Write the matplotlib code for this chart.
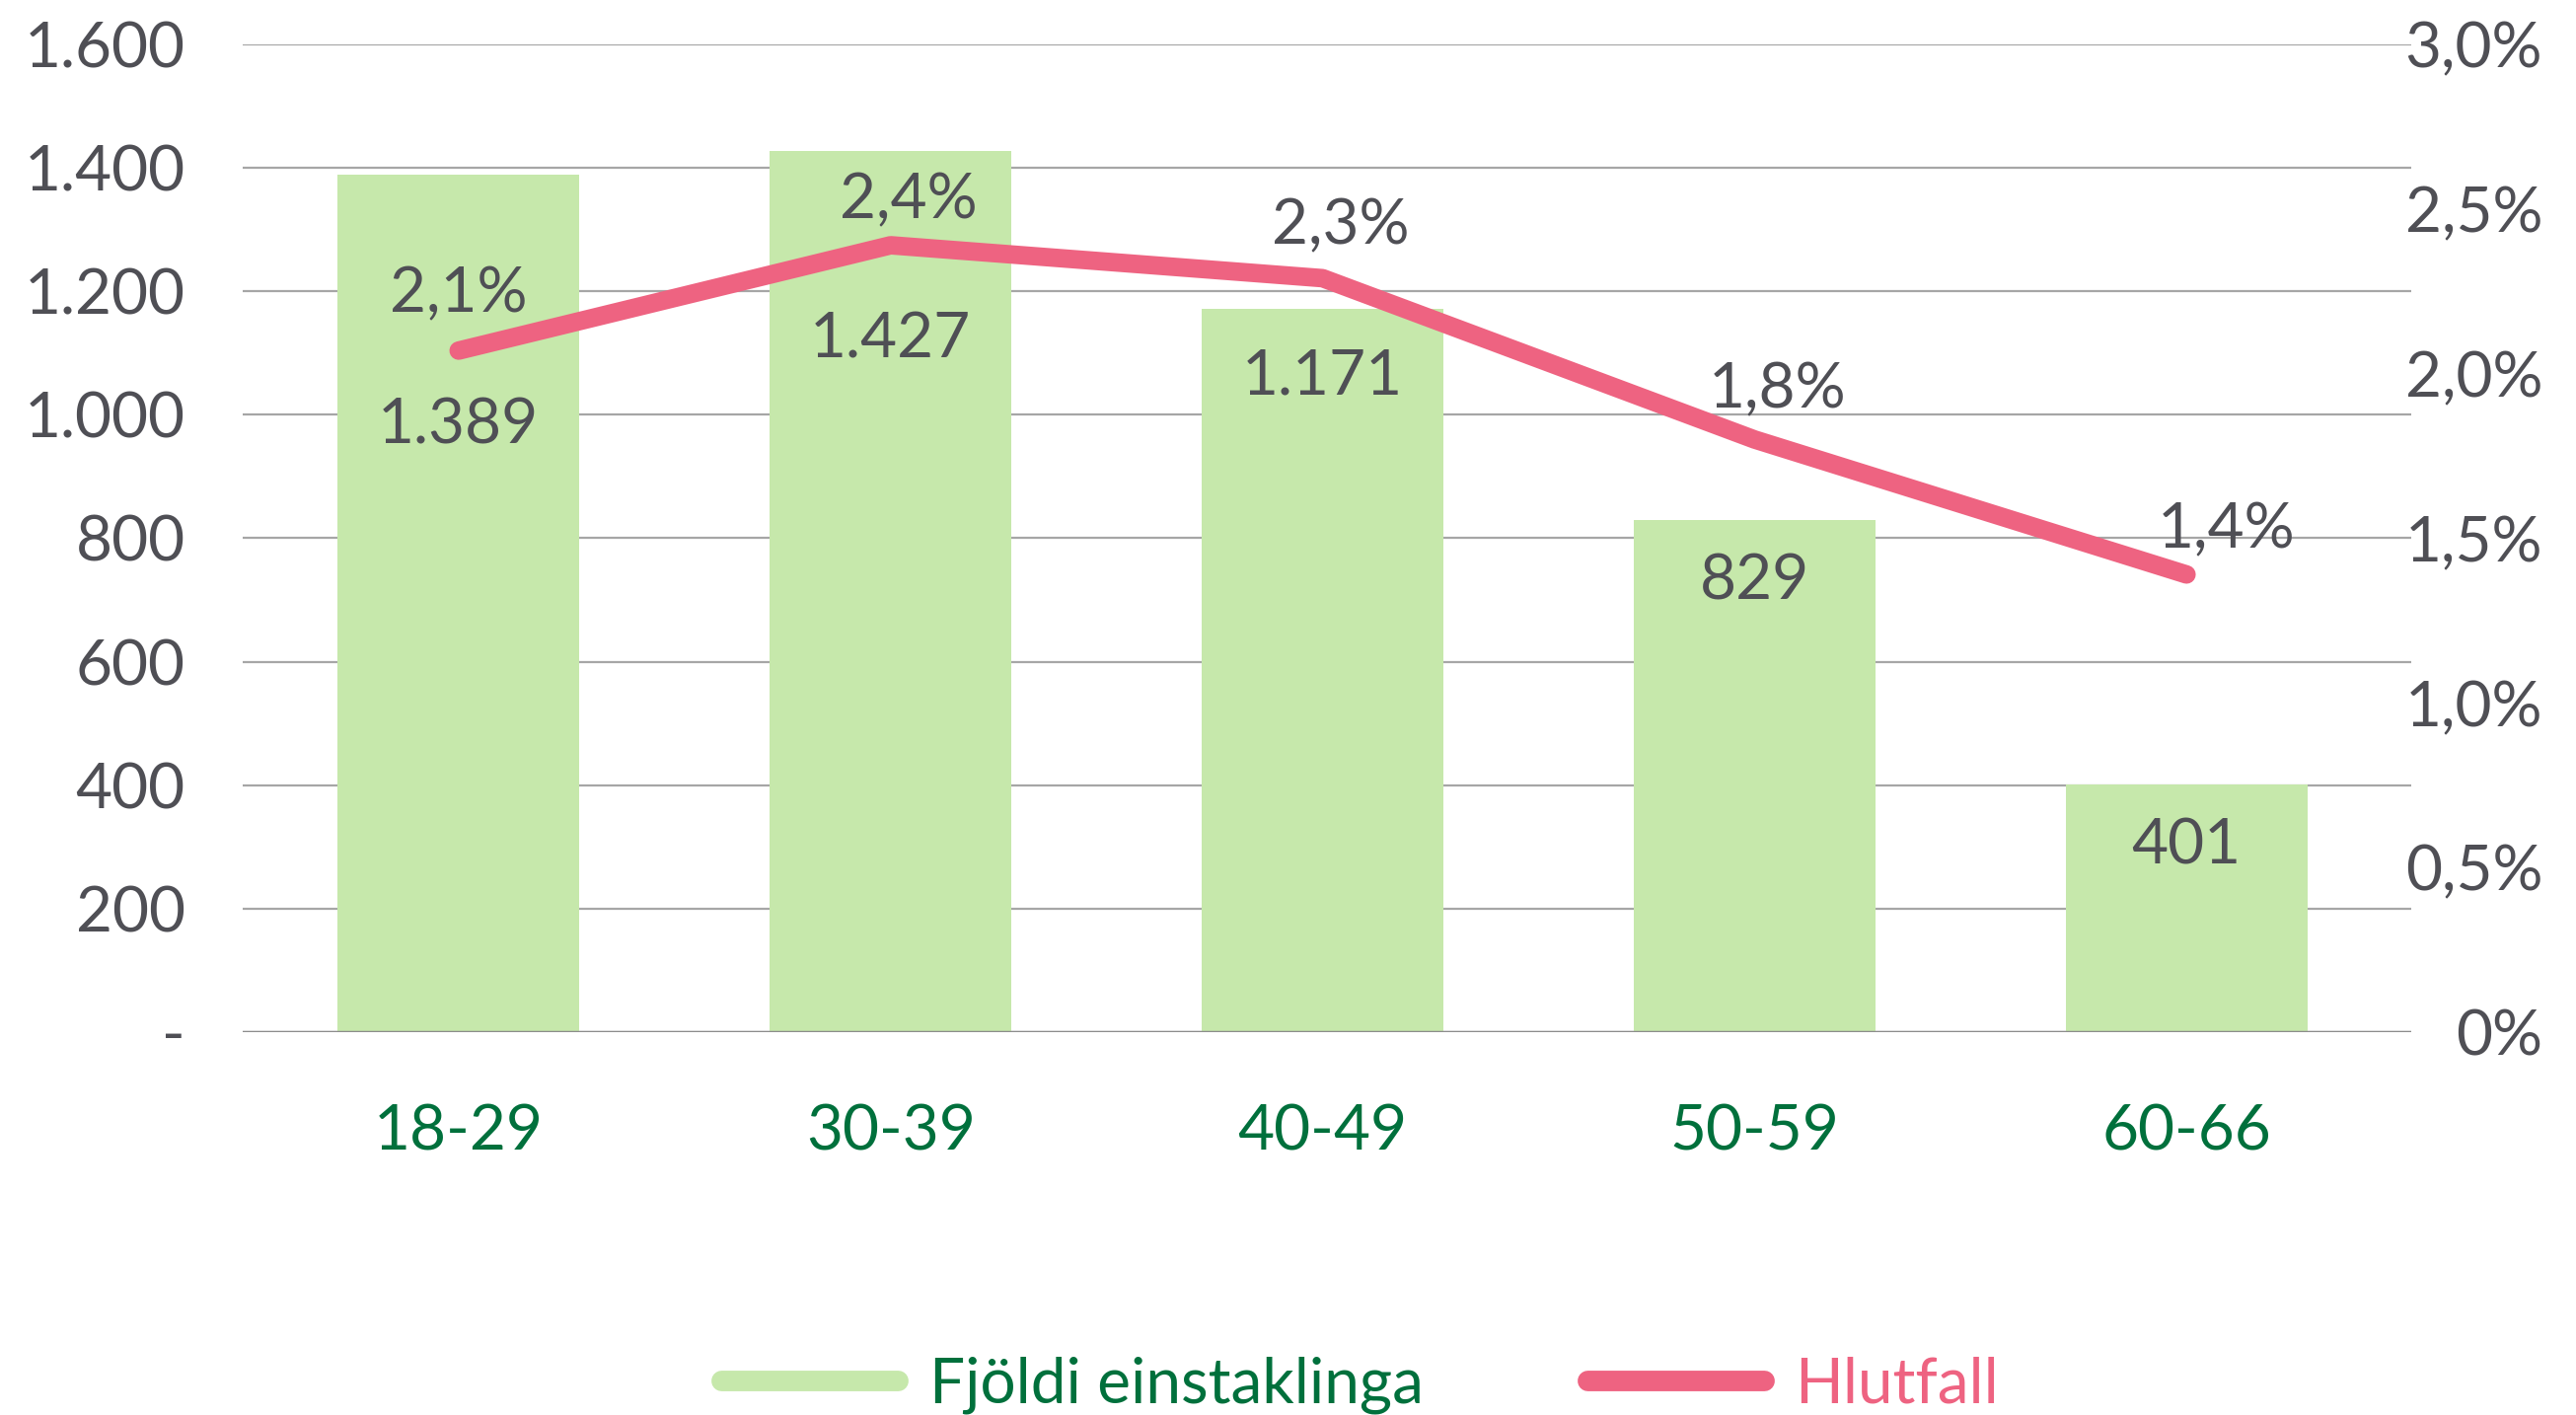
import numpy as np
import matplotlib.pyplot as plt
from matplotlib.lines import Line2D

# age groups and values
flokkar = ["18-29", "30-39", "40-49", "50-59", "60-66"]
fjoldi = [1389, 1427, 1171, 829, 401]
hlutfall = [2.07, 2.39, 2.29, 1.80, 1.39]
hlutfall_txt = ["2,1%", "2,4%", "2,3%", "1,8%", "1,4%"]
vinstri_ticks = [0, 200, 400, 600, 800, 1000, 1200, 1400, 1600]
vinstri_labels = ["-", "200", "400", "600", "800", "1.000", "1.200", "1.400", "1.600"]
haegri_ticks = [0, 0.5, 1.0, 1.5, 2.0, 2.5, 3.0]
haegri_labels = ["0%", "0,5%", "1,0%", "1,5%", "2,0%", "2,5%", "3,0%"]

graen = "#c6e8ab"
bleik = "#ee6381"
dokkgraen = "#00703c"
grar = "#4f4f55"
fs = 46

plt.rcParams['font.family'] = ['Lato', 'DejaVu Sans']

fig = plt.figure(figsize=(26.11, 14.34), dpi=100)
ax = fig.add_axes([0.0942, 0.2706, 0.8418, 0.698])
ax2 = ax.twinx()

x = np.arange(len(flokkar))
ax.bar(x, fjoldi, width=0.56, color=graen, zorder=2)
ax.set_xlim(-0.5, 4.52)
ax.set_ylim(0, 1600)
ax.set_yticks(vinstri_ticks)
ax.set_yticklabels(vinstri_labels)
ax.set_xticks(x)
ax.set_xticklabels(flokkar)
ax.grid(axis='y', color="#a6a6a6", lw=1.6, zorder=0)
ax.set_axisbelow(True)
for s in ax.spines.values():
    s.set_visible(False)
ax.axhline(0, color="#8c8c8c", lw=2.5, zorder=3)
ax.tick_params(axis='y', length=0, pad=42, labelsize=fs, labelcolor=grar)
ax.tick_params(axis='x', length=0, pad=52, labelsize=fs, labelcolor=dokkgraen)

# bar value labels (first two were nudged down in the original)
lab_y = [982, 1121, 1062, 729, 301]
for i in range(len(fjoldi)):
    txt = f"{fjoldi[i]:,}".replace(",", ".")
    ax.text(x[i], lab_y[i], txt, ha='center', va='center', fontsize=fs, color=grar, zorder=5)

ax2.plot(x, hlutfall, color=bleik, lw=13.5, solid_capstyle='round', solid_joinstyle='round', zorder=4)
ax2.set_ylim(0, 3.0)
ax2.set_yticks(haegri_ticks)
ax2.set_yticklabels(haegri_labels)
for lbl in ax2.get_yticklabels():
    lbl.set_horizontalalignment('right')
ax2.tick_params(axis='y', length=0, pad=96, labelsize=fs, labelcolor=grar)
for s in ax2.spines.values():
    s.set_visible(False)

offs = [(0, 57), (18, 45), (18, 53), (23, 50), (40, 45)]
for i in range(len(hlutfall)):
    ax2.annotate(hlutfall_txt[i], (x[i], hlutfall[i]), xytext=offs[i], textcoords='offset pixels',
                 ha='center', va='center', fontsize=fs, color=grar, zorder=6)

handles = [Line2D([0], [0], color=graen, lw=15, solid_capstyle='round'),
           Line2D([0], [0], color=bleik, lw=15, solid_capstyle='round')]
leg = fig.legend(handles, ["Fjöldi einstaklinga", "Hlutfall"], loc='center', bbox_to_anchor=(0.528, 0.021),
                 ncol=2, frameon=False, fontsize=fs, handlelength=2.8, handletextpad=0.5, columnspacing=2.6)
leg.get_texts()[0].set_color(dokkgraen)
leg.get_texts()[1].set_color(bleik)

plt.savefig("out.png", dpi=100)
